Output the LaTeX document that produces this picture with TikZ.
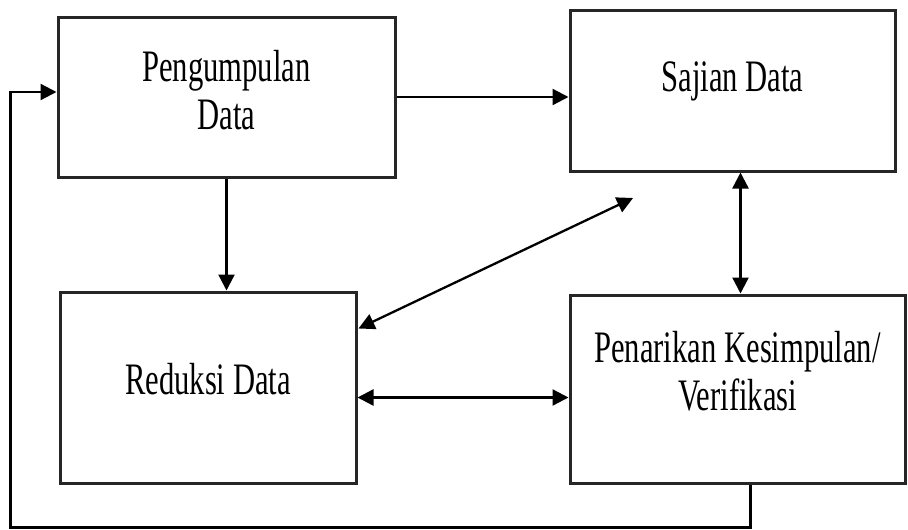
\documentclass[tikz,border=0pt]{standalone}
\usepackage{fontspec}
\newfontfamily\boxfont[FakeStretch=0.68]{Liberation Serif}
\usetikzlibrary{positioning,calc,arrows.meta}

\begin{document}
\begin{tikzpicture}[x=1pt,y=-1pt,
    box/.style={draw=black!85,line width=3pt,inner sep=0pt,align=center,
                font=\boxfont\fontsize{45}{48}\selectfont},
    arr/.style={line width=2.3pt,-{Triangle[length=16pt,width=16pt]}},
    dbl/.style={line width=2.3pt,{Triangle[length=16pt,width=16pt]}-{Triangle[length=16pt,width=16pt]}}]
    \useasboundingbox (0,0) rectangle (908,530);
    % Boxes
    \node[box,minimum width=337pt,minimum height=160pt,text depth=14pt] (pd) at (226.5,97) {Pengumpulan\\Data};
    \node[box,minimum width=325pt,minimum height=161pt,text depth=28pt] (sd) at (732.5,90.5) {Sajian Data};
    \node[box,minimum width=296pt,minimum height=191pt,text depth=18pt] (rd) at (208,387.5) {Reduksi Data};
    \node[box,minimum width=335pt,minimum height=188pt,text depth=36pt] (pk) at (737.5,389) {Penarikan Kesimpulan/\\Verifikasi};
    \coordinate (sdlow) at (633,198);
    % Flow
    \draw[arr] (pd.east) -- (pd.east -| sd.west);
    \draw[arr] (pd.south) -- (pd.south |- rd.north);
    \draw[dbl] ($(rd.north east)+(1,38)$) -- (sdlow);
    \draw[dbl] ([xshift=3pt]pk.north) -- ([xshift=3pt]pk.north |- sd.south);
    \draw[dbl] ([yshift=-10pt]rd.east) -- ([yshift=-10pt]rd.east -| pk.west);
    % Feedback
    \draw[arr] ([xshift=13pt]pk.south) -- ++(0,43) -| ([xshift=-46pt,yshift=5pt]pd.west) -- ([yshift=5pt]pd.west);
\end{tikzpicture}
\end{document}
